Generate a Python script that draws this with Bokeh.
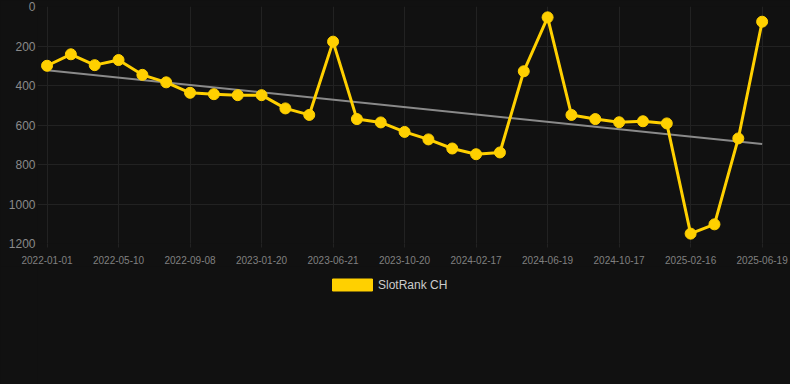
import numpy as np
from bokeh.plotting import figure
from bokeh.layouts import column
from bokeh.models import (Range1d, FixedTicker, Legend, LegendItem, ColumnDataSource)
from bokeh.embed import file_html
from bokeh.resources import INLINE

# ---- data ----
tick_labels = ["2022-01-01", "2022-05-10", "2022-09-08", "2023-01-20", "2023-06-21",
               "2023-10-20", "2024-02-17", "2024-06-19", "2024-10-17", "2025-02-16",
               "2025-06-19"]
ranks = [300, 242, 297, 271, 346, 384, 437, 444, 449, 449, 516, 549, 178, 570, 587,
         635, 673, 719, 748, 739, 328, 55, 549, 570, 586, 581, 592, 1150, 1103, 668, 77]
y_ticks = [0, 200, 400, 600, 800, 1000, 1200]
series_name = "SlotRank CH"

idx = list(range(len(ranks)))
tick_idx = idx[::3]

# linear trend from the data
slope, intercept = np.polyfit(idx, ranks, 1)
trend_x = [idx[0], idx[-1]]
trend_y = [slope * t + intercept for t in trend_x]

BG = "#111111"
GOLD = "#FFD000"
GRID = "#222222"

p = figure(width=790, height=266, output_backend="svg", toolbar_location=None,
           x_range=Range1d(-0.40, 31.19), y_range=Range1d(1200, 0),
           min_border_left=37, min_border_right=0, min_border_top=6, min_border_bottom=23)
p.background_fill_color = BG
p.border_fill_color = BG
p.outline_line_color = None

src = ColumnDataSource(dict(x=idx, y=ranks))
p.line(trend_x, trend_y, line_color="#8a8a8a", line_width=2)
p.line("x", "y", source=src, line_color=GOLD, line_width=3)
p.scatter("x", "y", source=src, size=11, fill_color=GOLD, line_color=GOLD)

# axes
p.xaxis.ticker = FixedTicker(ticks=tick_idx)
p.xaxis.major_label_overrides = {i: lab for i, lab in zip(tick_idx, tick_labels)}
p.yaxis.ticker = FixedTicker(ticks=y_ticks)
for ax in (p.xaxis, p.yaxis):
    ax.axis_line_color = None
    ax.minor_tick_line_color = None
    ax.major_tick_in = 0
    ax.major_label_text_font = "Liberation Sans"
p.xaxis.major_tick_out = 4
p.xaxis.major_tick_line_color = GRID
p.xaxis.major_label_standoff = 8
p.xaxis.major_label_text_font_size = "10px"
p.xaxis.major_label_text_color = "#808080"
p.yaxis.major_tick_out = 0
p.yaxis.major_tick_line_color = None
p.yaxis.major_label_standoff = 2
p.yaxis.major_label_text_font_size = "12px"
p.yaxis.major_label_text_color = "#8a8a8a"

p.xgrid.ticker = FixedTicker(ticks=tick_idx)
p.ygrid.ticker = FixedTicker(ticks=y_ticks)
p.grid.grid_line_color = GRID
p.grid.grid_line_width = 1

# legend strip below the chart
q = figure(width=790, height=118, output_backend="svg", toolbar_location=None,
           x_range=Range1d(0, 1), y_range=Range1d(0, 1),
           min_border_left=0, min_border_right=0, min_border_top=0, min_border_bottom=0)
q.axis.visible = False
q.grid.visible = False
q.background_fill_color = BG
q.border_fill_color = BG
q.outline_line_color = None
# legend swatch source: a glyph kept outside the visible range, used only for the key
dummy = q.quad(left=[5], right=[6], top=[6], bottom=[5], fill_color=GOLD, line_color=GOLD)
legend = Legend(items=[LegendItem(label=series_name, renderers=[dummy])],
                orientation="horizontal", location=(290, 92),
                background_fill_color=BG, background_fill_alpha=0,
                border_line_color=None, glyph_width=50, glyph_height=15,
                label_height=15, label_standoff=1, padding=0, margin=0,
                label_text_font="Liberation Sans", label_text_font_size="12px",
                label_text_color="#cccccc")
q.add_layout(legend, "center")

html = file_html(column(p, q, spacing=0), INLINE)
html = html.replace("</head>",
                    "<style>html,body{background-color:#111111 !important;}</style></head>", 1)
open("out.html", "w").write(html)
